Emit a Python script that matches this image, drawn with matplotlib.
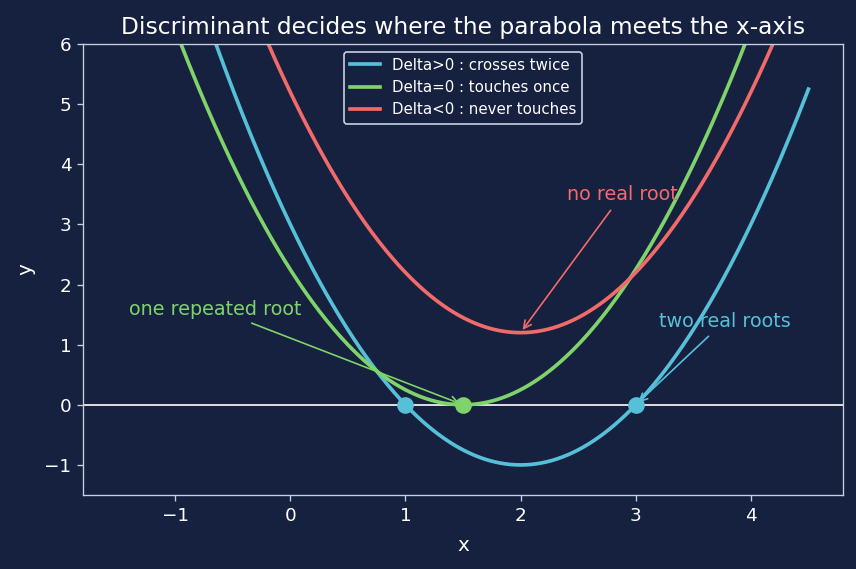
import numpy as np
import matplotlib
matplotlib.use("Agg")
import matplotlib.pyplot as plt

plt.rcParams['font.family'] = ['DejaVu Sans']

# Data
labels = ["Delta>0 : crosses twice", "Delta=0 : touches once", "Delta<0 : never touches"]
coef_a = [1.0, 1.0, 1.0]
coef_b = [-4.0, -3.0, -4.0]
coef_c = [3.0, 2.25, 5.2]
colors = ["#56c0d8", "#7fd36b", "#f26b6b"]
roots_x = [1.0, 3.0]
double_root_x = [1.5]
x_min, x_max = -1.5, 4.5

bg = "#16203f"
fg = "#ffffff"
spine_c = "#c8d0e0"

DPI = 120
fig = plt.figure(figsize=(856/DPI, 569/DPI), dpi=DPI, facecolor=bg)
ax = fig.add_axes([83/856, 1-495/569, (843-83)/856, (495-44)/569])
ax.set_facecolor(bg)

x = np.linspace(x_min, x_max, 400)
for a, b, c, col, lab in zip(coef_a, coef_b, coef_c, colors, labels):
    ax.plot(x, a*x**2 + b*x + c, color=col, lw=2.2, label=lab)

ax.axhline(0, color=fg, lw=1.0, zorder=1)
ax.plot(roots_x, [0]*len(roots_x), "o", color=colors[0], ms=9, zorder=5)
ax.plot(double_root_x, [0]*len(double_root_x), "o", color=colors[1], ms=9, zorder=5)

ax.annotate("no real root", xy=(2.0, 1.2), xytext=(2.4, 3.4), color=colors[2], fontsize=11.5,
            arrowprops=dict(arrowstyle="->", color=colors[2], lw=1))
ax.annotate("one repeated root", xy=(1.5, 0.0), xytext=(-1.4, 1.5), color=colors[1], fontsize=11.5,
            arrowprops=dict(arrowstyle="->", color=colors[1], lw=1))
ax.annotate("two real roots", xy=(3.0, 0.0), xytext=(3.2, 1.3), color=colors[0], fontsize=11.5,
            arrowprops=dict(arrowstyle="->", color=colors[0], lw=1))

ax.set_xlim(-1.8, 4.8)
ax.set_ylim(-1.5, 6)
ax.set_xlabel("x", color=fg, fontsize=12, labelpad=7)
ax.set_ylabel("y", color=fg, fontsize=12, labelpad=5.5)
ax.set_title("Discriminant decides where the parabola meets the x-axis", color=fg, fontsize=14)
ax.tick_params(colors=spine_c, labelcolor=fg, labelsize=11)
for s in ax.spines.values():
    s.set_color(spine_c)

leg = ax.legend(loc="upper center", fontsize=9, facecolor=bg, edgecolor=spine_c, framealpha=1)
for t in leg.get_texts():
    t.set_color(fg)

fig.savefig("out.png", dpi=DPI, facecolor=bg)
